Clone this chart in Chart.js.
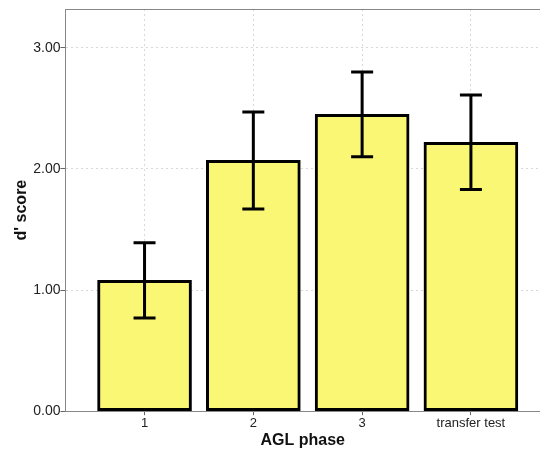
<!DOCTYPE html>
<html>
<head>
<meta charset="utf-8">
<script src="https://cdn.jsdelivr.net/npm/chart.js@4/dist/chart.umd.min.js"></script>
<style>
  html, body { margin: 0; padding: 0; background: #fff; }
  #wrap { width: 540px; height: 450px; }
</style>
</head>
<body>
<div id="wrap"><canvas id="chart"></canvas></div>
<script>
const categories = ["1", "2", "3", "transfer test"];
const positions = [1, 2, 3, 4];
const means = [1.08, 2.07, 2.45, 2.22];
const errLow = [0.77, 1.67, 2.10, 1.83];
const errHigh = [1.39, 2.47, 2.80, 2.61];
const yTicks = [0, 1, 2, 3];

const fontFamily = "'Liberation Sans', Arial, Helvetica, sans-serif";

// error bars drawn from the arrays via the chart scales
const errorBars = {
  id: "errorBars",
  afterDatasetsDraw(chart) {
    const ctx = chart.ctx;
    const x = chart.scales.x;
    const y = chart.scales.y;
    ctx.save();
    ctx.strokeStyle = "#000";
    ctx.lineWidth = 3;
    positions.forEach((p, i) => {
      const px = x.getPixelForValue(p);
      const top = y.getPixelForValue(errHigh[i]);
      const bot = y.getPixelForValue(errLow[i]);
      ctx.beginPath();
      ctx.moveTo(px, top);
      ctx.lineTo(px, bot);
      ctx.moveTo(px - 11, top);
      ctx.lineTo(px + 11, top);
      ctx.moveTo(px - 11, bot);
      ctx.lineTo(px + 11, bot);
      ctx.stroke();
    });
    ctx.restore();
  }
};

new Chart(document.getElementById("chart"), {
  type: "bar",
  data: {
    datasets: [{
      data: positions.map((p, i) => ({ x: p, y: means[i] })),
      backgroundColor: "#f9f774",
      borderColor: "#000",
      borderWidth: 3,
      borderSkipped: false,
      barThickness: 94
    }]
  },
  options: {
    responsive: true,
    maintainAspectRatio: false,
    animation: false,
    layout: { padding: { top: 9, right: 0, left: 12, bottom: 0 } },
    plugins: { legend: { display: false }, tooltip: { enabled: false } },
    scales: {
      x: {
        type: "linear",
        min: 0.273,
        max: 4.635,
        offset: false,
        afterBuildTicks: (axis) => { axis.ticks = positions.map(v => ({ value: v })); },
        ticks: {
          callback: (v, i) => categories[i],
          color: "#222",
          font: { family: fontFamily, size: 13 },
          padding: 0,
          maxRotation: 0,
          autoSkip: false
        },
        grid: { offset: false, color: "#d8d8d8", tickColor: "#666", tickLength: 4, lineWidth: 1 },
        border: { color: "#888", width: 1, dash: [2, 3] },
        title: {
          display: true,
          text: "AGL phase",
          color: "#111",
          font: { family: fontFamily, size: 16, weight: "bold" },
          padding: { top: 0, bottom: 0 }
        }
      },
      xTop: {
        type: "linear",
        position: "top",
        min: 0,
        max: 1,
        ticks: { display: false },
        grid: { display: false, drawTicks: false },
        border: { color: "#888", width: 1 }
      },
      y: {
        min: 0,
        max: 3.32,
        afterBuildTicks: (axis) => { axis.ticks = yTicks.map(v => ({ value: v })); },
        ticks: {
          callback: (v) => v.toFixed(2),
          color: "#222",
          font: { family: fontFamily, size: 14 },
          padding: 0
        },
        grid: { color: "#d8d8d8", tickColor: "#666", tickLength: 5, lineWidth: 1 },
        border: { color: "#888", width: 1, dash: [2, 3] },
        title: {
          display: true,
          text: "d' score",
          color: "#111",
          font: { family: fontFamily, size: 16, weight: "bold" },
          padding: { top: 0, bottom: 2 }
        }
      }
    }
  },
  plugins: [errorBars]
});
</script>
</body>
</html>
